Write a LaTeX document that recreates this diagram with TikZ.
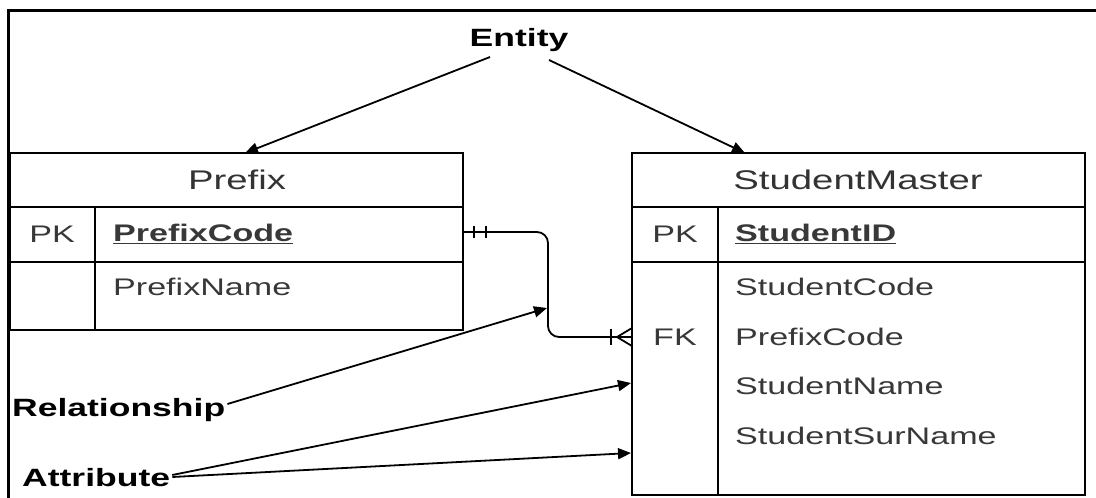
\documentclass[tikz,border=0pt]{standalone}
\usepackage{fontspec}
\setmainfont{Liberation Sans}
\usetikzlibrary{arrows.meta}
% text in this figure is set wide
\newcommand\wide[1]{\scalebox{1.42}[1]{#1}}
\begin{document}
\begin{tikzpicture}[x=1pt,y=-1pt,
  frame/.style={line width=3pt},
  tbl/.style={line width=2pt},
  hdr/.style={text=black!80, font=\fontsize{27}{27}\selectfont, inner sep=0pt},
  cell/.style={text=black!78, font=\fontsize{24}{24}\selectfont, inner sep=0pt},
  lbl/.style={font=\bfseries\fontsize{25}{25}\selectfont, inner sep=0pt},
  pointer/.style={line width=1.8pt, -{Triangle[length=13pt,width=11pt]}},
  rel/.style={line width=1.8pt, rounded corners=11pt},
  mark line/.style={line width=1.8pt}]
\useasboundingbox (0,0) rectangle (1096,498);

% outer frame (left and top edges)
\draw[frame] (8,498) -- (8,10) -- (1096,10);

% ---------- Prefix table ----------
\draw[tbl] (10,153) rectangle (463,330);
\draw[tbl] (10,207) -- (463,207);
\draw[tbl] (10,262) -- (463,262);
\draw[tbl] (95,207) -- (95,330);
\node[hdr] (prefix) at (237,180) {\wide{Prefix}};
\node[cell] (ppk) at (52,234) {\wide{PK}};
\node[cell, anchor=west] (pcode) at (113,234) {\wide{\underline{\textbf{PrefixCode}}}};
\node[cell, anchor=west] (pname) at (113,287) {\wide{PrefixName}};
\coordinate (prefixtop) at (245,153);
\coordinate (prefixout) at (463,232);

% ---------- StudentMaster table ----------
\draw[tbl] (632,153) rectangle (1085,495);
\draw[tbl] (632,207) -- (1085,207);
\draw[tbl] (632,262) -- (1085,262);
\draw[tbl] (718,207) -- (718,495);
\node[hdr] (student) at (858,180) {\wide{StudentMaster}};
\node[cell] (spk) at (675,234) {\wide{PK}};
\node[cell, anchor=west] (sid) at (735,234) {\wide{\underline{\textbf{StudentID}}}};
\node[cell] (sfk) at (675,337) {\wide{FK}};
\node[cell, anchor=west] (scode) at (735,287) {\wide{StudentCode}};
\node[cell, anchor=west] (sprefix) at (735,337) {\wide{PrefixCode}};
\node[cell, anchor=west] (sname) at (735,386) {\wide{StudentName}};
\node[cell, anchor=west] (ssur) at (735,436) {\wide{StudentSurName}};
\coordinate (studenttop) at (745,153);
\coordinate (studentin) at (632,337);
\coordinate (nameedge) at (631,383);
\coordinate (suredge) at (631,453);

% ---------- one-to-many relationship ----------
\draw[rel] (prefixout) -- (548,232) -- (548,337) -- (studentin);
\coordinate (relbend) at (547,308);
% one-and-only-one end
\draw[mark line] (474,226) -- (474,238);
\draw[mark line] (486,226) -- (486,238);
% one-or-many end
\draw[mark line] (611,329) -- (611,345);
\draw[mark line] (617,337) -- (632,328);
\draw[mark line] (617,337) -- (632,346);

% ---------- callouts ----------
\node[lbl] (entity) at (519,40) {\wide{Entity}};
\coordinate (entityL) at (490,57);
\coordinate (entityR) at (549,60);
\draw[pointer] (entityL) -- (prefixtop);
\draw[pointer] (entityR) -- (studenttop);

\node[lbl, anchor=west] (relationship) at (12,410) {\wide{Relationship}};
\draw[pointer] (relationship.east) ++(2,-6) -- (relbend);

\node[lbl, anchor=west] (attribute) at (22,478) {\wide{Attribute}};
\draw[pointer] (attribute.east) ++(2,-3) -- (nameedge);
\draw[pointer] (attribute.east) ++(2,-1) -- (suredge);
\end{tikzpicture}
\end{document}
